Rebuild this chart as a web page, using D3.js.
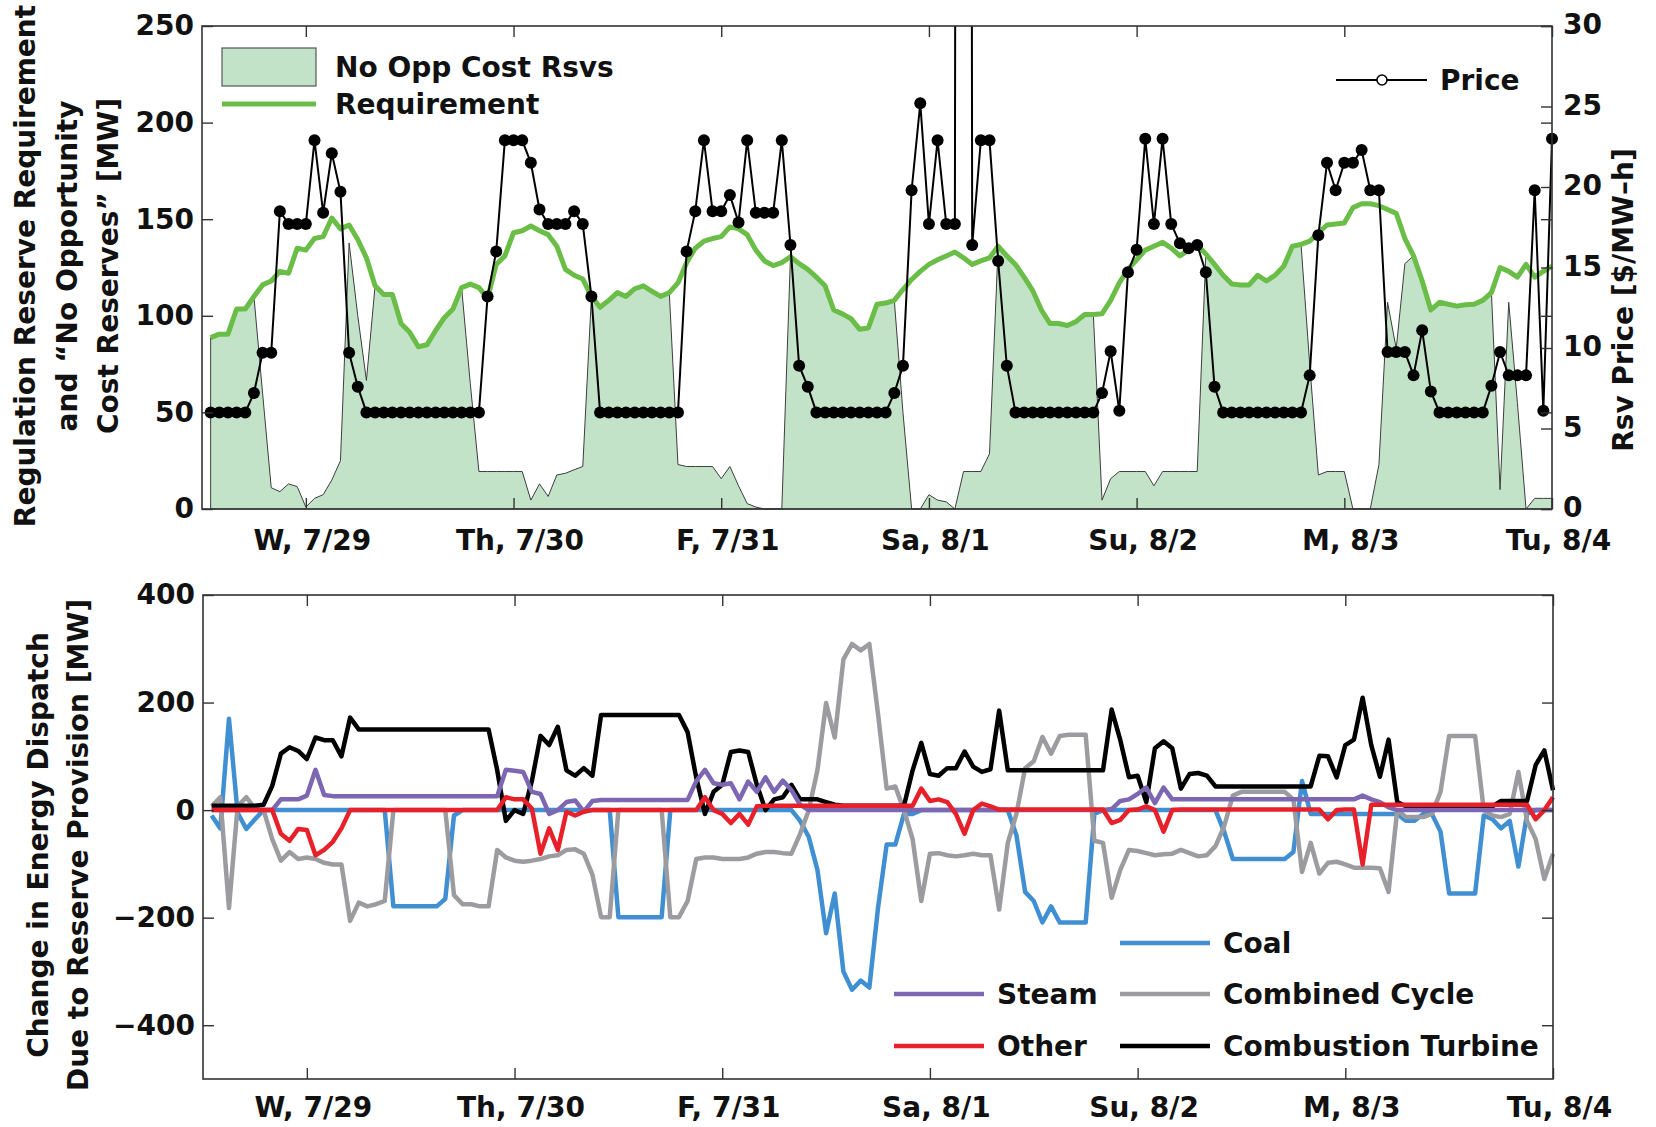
<!DOCTYPE html>
<html>
<head>
<meta charset="utf-8">
<script src="https://cdn.jsdelivr.net/npm/d3@7"></script>
<style>
  html, body { margin: 0; padding: 0; background: #fff; }
  svg { display: block; }
  text { font-family: "DejaVu Sans", sans-serif; font-weight: bold; fill: #111; }
</style>
</head>
<body>
<svg id="chart" width="1656" height="1127"></svg>
<script>
// Hourly samples, hour 0 = 00:00 Wed 7/29; first sample is 13:00 Tue 7/28
const startHour = -11;
const dayTickHours = [0, 24, 48, 72, 96, 120, 144];
const dayLabels = ["W, 7/29", "Th, 7/30", "F, 7/31", "Sa, 8/1", "Su, 8/2", "M, 8/3", "Tu, 8/4"];
const leftTicksTop = [0, 50, 100, 150, 200, 250];
const rightTicksTop = [0, 5, 10, 15, 20, 25, 30];
const leftTicksBottom = [-400, -200, 0, 200, 400];

// Regulation reserve price [$/MW-h]
const price = [
  6,6,6,6,6,7.2,9.7,9.7,18.5,17.7,
  17.7,17.7,22.9,18.4,22.1,19.7,9.7,7.6,6,6,
  6,6,6,6,6,6,6,6,6,6,
  6,6,13.2,16.0,22.9,22.9,22.9,21.5,18.6,17.7,
  17.7,17.7,18.5,17.7,13.2,6,6,6,6,6,
  6,6,6,6,6,16.0,18.5,22.9,18.5,18.5,
  19.5,17.8,22.9,18.4,18.4,18.4,22.9,16.4,8.9,7.6,
  6,6,6,6,6,6,6,6,6,7.2,
  8.9,19.8,25.2,17.7,22.9,17.7,17.7,400,16.4,22.9,
  22.9,15.4,8.9,6,6,6,6,6,6,6,
  6,6,6,7.2,9.8,6.1,14.7,16.1,23.0,17.7,
  23.0,17.7,16.5,16.2,16.4,14.7,7.6,6,6,6,
  6,6,6,6,6,6,6,8.3,17.0,21.5,
  19.8,21.5,21.5,22.3,19.8,19.8,9.75,9.75,9.75,8.3,
  11.1,7.3,6,6,6,6,6,6,7.65,9.75,
  8.3,8.3,8.3,19.8,6.1,23.0
];

// Regulation reserve requirement [MW]
const requirement = [
  88.7,90.5,90.5,103.5,103.5,110,116,118,123,122,
  135,134,140,141,150.6,145,147,139.5,130,115.5,
  111,111,96,91.5,84,85,92.4,99,103.5,114.6,
  116.4,114.6,109,126.6,131,143,144,146.5,144,142,
  136,124,121,119,110,104.4,108,112,110,114,
  115.5,112.7,110,112,117,127.5,135,138.6,140,141,
  146,145,142,134,128.4,126,127.5,130.6,127,124,
  120,115.5,103,101,98.5,93,93.7,106,106.6,108,
  113.6,118.8,123,126.6,129,131,133,130,126.6,128.4,
  130,136,131,126.6,120,113,103,96,96,95,
  97,100.7,100.7,101,108,117,124,129,134,136,
  138,135,131,134,136.7,132,126.6,121,116.4,116,
  116,121,118,121,125.7,136,137,138.6,143,147,
  147.5,148,156,158,158,157,155,153,140,131,
  118,103,107,106,105,105.7,106,108,112,125,
  123,120,126.6,120,123,125.7
];

// Reserves held without opportunity cost [MW]
const noOppCost = [
  88.7,90.5,90.5,103.5,103.5,110,60,11,9,13,
  11.6,1,5.5,7.4,15,25,137.7,100,66.5,115.5,
  111,111,96,91.5,84,85,92.4,99,103.5,114.6,
  65,19.4,19.4,19.4,19.4,19.4,19.4,4.6,13,6.5,
  17.6,18.5,20.3,22,110,104.4,108,112,110,114,
  115.5,112.7,110,112,23,22,22,22,22,15.7,
  22,12,2.8,1,0,0,0,130.6,127,124,
  120,115.5,103,101,98.5,93,93.7,106,106.6,108,
  50,0,0,7.4,4.6,3.7,0,19.4,19.4,19.4,
  28.6,136,131,126.6,120,113,103,96,96,95,
  97,100.7,100.7,4.6,15.7,19.4,19.4,19.4,19.4,12,
  19.4,19.4,19.4,19.4,19.4,132,126.6,121,116.4,116,
  116,121,118,121,125.7,136,137,75,17.6,19.4,
  19.4,19.4,0,0,0,23,107,83,127,131,
  118,103,107,106,105,105.7,106,108,112,10,
  107,55,0,5.5,5.5,5.5
];

// Change in energy dispatch by unit type [MW]
const coal = [
  -10,-34,170,-5,-35,-17,0,0,0,0,
  0,0,0,0,0,0,0,0,0,0,
  0,-179,-179,-179,-179,-179,-179,-165,-10,0,
  0,0,0,0,0,0,0,0,0,0,
  0,0,0,0,0,0,0,-199,-199,-199,
  -199,-199,-199,0,0,0,0,0,0,0,
  0,0,0,0,0,0,0,0,-20,-50,
  -111,-229,-155,-300,-334,-317,-330,-182,-64,-64,
  -7,-7,0,0,0,0,0,0,0,0,
  0,0,0,-47,-152,-169,-209,-179,-209,-209,
  -209,-209,-7,0,0,0,0,0,0,0,
  0,0,0,0,0,0,0,-40,-91,-91,
  -91,-91,-91,-91,-91,-78,54,-7,-7,-7,
  -7,-7,-7,-7,-7,-7,-7,-7,-20,-20,
  -7,-7,-40,-155,-155,-155,-155,-10,-17,-34,
  -20,-105,-7,0,0,0
];

const combinedCycle = [
  7,24,-182,7,24,3,0,-54,-94,-78,
  -91,-88,-91,-98,-101,-101,-206,-172,-179,-175,
  -169,0,0,0,0,0,0,0,-158,-175,
  -175,-179,-179,-74,-88,-94,-96,-94,-91,-86,
  -84,-74,-73,-81,-120,-199,-199,0,0,0,
  0,0,0,-199,-199,-169,-91,-88,-88,-91,
  -91,-91,-88,-81,-78,-78,-80,-81,-44,0,
  74,199,135,280,309,297,309,179,40,44,
  0,-54,-169,-81,-80,-84,-86,-84,-81,-84,
  -84,-185,-61,-7,78,91,136,105,138,140,
  140,140,-57,-61,-163,-111,-74,-76,-80,-84,
  -82,-81,-74,-80,-86,-84,-67,-30,27,34,
  34,34,34,34,34,20,-115,-61,-118,-98,
  -96,-101,-107,-107,-107,-108,-152,0,-13,-13,
  -13,-7,34,138,138,138,138,0,-10,-13,
  -7,71,-20,-54,-128,-81
];

const combustionTurbine = [
  8,8,8,8,8,8,10,45,105,117,
  110,95,135,130,130,100,172,150,150,150,
  150,150,150,150,150,150,150,150,150,150,
  150,150,150,74,-20,0,-7,54,138,121,
  155,74,64,78,64,177,177,177,177,177,
  177,177,177,177,177,145,60,-7,34,47,
  108,111,108,47,0,20,24,47,20,20,
  20,15,10,8,8,8,8,8,8,8,
  8,74,125,67,64,78,78,109,81,71,
  76,185,74,74,74,74,74,74,74,74,
  74,74,74,74,187,130,61,64,15,115,
  128,115,40,67,69,64,44,44,44,44,
  44,44,44,44,44,44,44,44,101,100,
  61,121,131,209,121,62,131,15,7,7,
  7,7,7,7,7,7,7,7,7,17,
  17,17,17,84,111,37
];

const steam = [
  0,0,0,0,0,0,0,0,20,20,
  20,27,75,28,26,26,26,26,26,26,
  26,26,26,26,26,26,26,26,26,26,
  26,26,26,26,75,73,71,34,30,-7,
  0,15,18,-3,17,19,19,19,19,19,
  19,19,19,19,19,19,54,75,50,47,
  50,20,53,34,61,34,55,37,10,0,
  0,0,0,0,0,0,0,0,0,0,
  0,0,0,0,0,0,0,0,0,0,
  0,0,0,0,0,0,0,0,0,0,
  0,0,0,0,2,17,20,30,42,13,
  42,20,20,20,20,20,20,20,20,20,
  20,20,20,20,20,20,20,20,20,20,
  20,20,20,27,20,15,5,0,0,0,
  0,0,0,0,0,0,0,0,0,0,
  0,0,0,0,0,0
];

const other = [
  0,0,0,0,0,0,0,0,-44,-57,
  -35,-37,-84,-74,-59,-34,0,0,0,0,
  0,0,0,0,0,0,0,0,0,0,
  0,0,0,0,24,20,20,3,-81,-34,
  -74,-3,-10,-3,0,0,0,0,0,0,
  0,0,0,0,0,0,0,24,0,-7,
  -24,-7,-27,7,8,8,8,8,8,8,
  8,8,8,8,8,8,8,8,8,8,
  8,8,40,17,20,15,-7,-44,0,12,
  7,1,1,1,1,1,1,1,1,1,
  1,1,1,1,-24,-18,0,1,7,0,
  -40,0,1,1,1,1,1,1,1,1,
  1,1,1,1,1,1,1,1,1,-17,
  0,1,1,-101,10,10,10,10,10,10,
  10,10,10,10,10,10,10,10,10,10,
  10,10,10,-17,0,24
];

const hours = price.map((_, i) => startHour + i);

const dispatchSeries = [
  { name: "Coal", values: coal, color: "#3f8fd2" },
  { name: "Combined Cycle", values: combinedCycle, color: "#9c9ca0" },
  { name: "Combustion Turbine", values: combustionTurbine, color: "#000000" },
  { name: "Steam", values: steam, color: "#7d67b2" },
  { name: "Other", values: other, color: "#e8202a" }
];

const svg = d3.select("#chart");
const FS = 28;
const frameColor = "#333";

// ---------- top panel: reserves and price ----------
const topBox = { l: 202, r: 1552, t: 26, b: 509 };
const xTop = d3.scaleLinear().domain([-12, 144]).range([topBox.l, topBox.r]);
const yMW = d3.scaleLinear().domain([0, 250]).range([topBox.b, topBox.t]);
const yPrice = d3.scaleLinear().domain([0, 30]).range([topBox.b, topBox.t]);

svg.append("defs").append("clipPath").attr("id", "topClip")
  .append("rect").attr("x", topBox.l - 10).attr("y", topBox.t)
  .attr("width", topBox.r - topBox.l + 20).attr("height", topBox.b - topBox.t);

const gTop = svg.append("g");

// area of reserves held at no opportunity cost
const area = d3.area()
  .x((d, i) => xTop(hours[i]))
  .y0(yMW(0))
  .y1(d => yMW(d));
gTop.append("path").datum(noOppCost)
  .attr("d", area)
  .attr("fill", "#c3e3c9")
  .attr("stroke", "#3d3d3d")
  .attr("stroke-width", 1);

// requirement
const reqLine = d3.line().x((d, i) => xTop(hours[i])).y(d => yMW(d));
gTop.append("path").datum(requirement)
  .attr("d", reqLine)
  .attr("fill", "none")
  .attr("stroke", "#6abd47")
  .attr("stroke-width", 5)
  .attr("stroke-linejoin", "round");

// price with markers
const priceG = gTop.append("g").attr("clip-path", "url(#topClip)");
const priceLine = d3.line().x((d, i) => xTop(hours[i])).y(d => yPrice(d));
priceG.append("path").datum(price)
  .attr("d", priceLine)
  .attr("fill", "none")
  .attr("stroke", "#000")
  .attr("stroke-width", 2);
priceG.selectAll("circle.p").data(price).join("circle")
  .attr("class", "p")
  .attr("cx", (d, i) => xTop(hours[i]))
  .attr("cy", d => yPrice(d))
  .attr("r", 6)
  .attr("fill", "#000");

// frame and axes
function styleAxis(g) {
  g.select(".domain").remove();
  g.selectAll(".tick line").attr("stroke", frameColor).attr("stroke-width", 1.4);
  g.selectAll(".tick text").attr("font-size", FS).attr("fill", "#111")
    .attr("font-family", "DejaVu Sans, sans-serif").attr("font-weight", "bold");
}

svg.append("g").attr("transform", `translate(${topBox.l},0)`)
  .call(d3.axisLeft(yMW).tickValues(leftTicksTop).tickSize(-11).tickPadding(8))
  .call(styleAxis);
svg.append("g").attr("transform", `translate(${topBox.r},0)`)
  .call(d3.axisRight(yMW).tickValues(leftTicksTop).tickSize(-11).tickFormat(""))
  .call(styleAxis);
svg.append("g").attr("transform", `translate(${topBox.r},0)`)
  .call(d3.axisRight(yPrice).tickValues(rightTicksTop).tickSize(-11).tickPadding(11))
  .call(styleAxis)
  .selectAll(".tick text").attr("dy", "0.27em");
svg.append("g").attr("transform", `translate(0,${topBox.b})`)
  .call(d3.axisBottom(xTop).tickValues(dayTickHours).tickSize(-11).tickPadding(21)
    .tickFormat((d, i) => dayLabels[i]))
  .call(styleAxis)
  .selectAll(".tick text").attr("dx", 6);
svg.append("g").attr("transform", `translate(0,${topBox.t})`)
  .call(d3.axisTop(xTop).tickValues(dayTickHours).tickSize(-11).tickFormat(""))
  .call(styleAxis);
svg.append("rect")
  .attr("x", topBox.l).attr("y", topBox.t)
  .attr("width", topBox.r - topBox.l).attr("height", topBox.b - topBox.t)
  .attr("fill", "none").attr("stroke", frameColor).attr("stroke-width", 1.6);

// top legends
svg.append("rect").attr("x", 222).attr("y", 48).attr("width", 94).attr("height", 38)
  .attr("fill", "#c3e3c9").attr("stroke", "#555").attr("stroke-width", 1.2);
svg.append("line").attr("x1", 222).attr("x2", 316).attr("y1", 104).attr("y2", 104)
  .attr("stroke", "#6abd47").attr("stroke-width", 5);
svg.append("text").attr("x", 335).attr("y", 77).attr("font-size", FS).text("No Opp Cost Rsvs");
svg.append("text").attr("x", 335).attr("y", 114).attr("font-size", FS).text("Requirement");

svg.append("line").attr("x1", 1336).attr("x2", 1427).attr("y1", 80).attr("y2", 80)
  .attr("stroke", "#000").attr("stroke-width", 2);
svg.append("circle").attr("cx", 1382).attr("cy", 80).attr("r", 5)
  .attr("fill", "#fff").attr("stroke", "#000").attr("stroke-width", 1.6);
svg.append("text").attr("x", 1440).attr("y", 90).attr("font-size", FS).text("Price");

// axis titles
const leftTitleTop = ["Regulation Reserve Requirement", "and \u201cNo Opportunity", "Cost Reserves\u201d [MW]"];
const leftTitleTopX = [35, 77, 118];
leftTitleTop.forEach((t, i) => {
  svg.append("text")
    .attr("transform", `translate(${leftTitleTopX[i]},266) rotate(-90)`)
    .attr("text-anchor", "middle").attr("font-size", FS).text(t);
});
svg.append("text")
  .attr("transform", "translate(1633,300) rotate(-90)")
  .attr("text-anchor", "middle").attr("font-size", FS).text("Rsv Price [$/MW\u2013h]");

// ---------- bottom panel: dispatch change ----------
const botBox = { l: 203, r: 1553, t: 595, b: 1079 };
const xBot = d3.scaleLinear().domain([-12, 144]).range([botBox.l, botBox.r]);
const yDisp = d3.scaleLinear().domain([-500, 400]).range([botBox.b, botBox.t]);

const dispLine = d3.line().x((d, i) => xBot(hours[i])).y(d => yDisp(d));
const gBot = svg.append("g");
dispatchSeries.forEach(s => {
  gBot.append("path").datum(s.values)
    .attr("d", dispLine)
    .attr("fill", "none")
    .attr("stroke", s.color)
    .attr("stroke-width", 4.5)
    .attr("stroke-linejoin", "round");
});

svg.append("g").attr("transform", `translate(${botBox.l},0)`)
  .call(d3.axisLeft(yDisp).tickValues(leftTicksBottom).tickSize(-11).tickPadding(8))
  .call(styleAxis);
svg.append("g").attr("transform", `translate(${botBox.r},0)`)
  .call(d3.axisRight(yDisp).tickValues(leftTicksBottom).tickSize(-11).tickFormat(""))
  .call(styleAxis);
svg.append("g").attr("transform", `translate(0,${botBox.b})`)
  .call(d3.axisBottom(xBot).tickValues(dayTickHours).tickSize(-11).tickPadding(18)
    .tickFormat((d, i) => dayLabels[i]))
  .call(styleAxis)
  .selectAll(".tick text").attr("dx", 6);
svg.append("g").attr("transform", `translate(0,${botBox.t})`)
  .call(d3.axisTop(xBot).tickValues(dayTickHours).tickSize(-11).tickFormat(""))
  .call(styleAxis);
svg.append("rect")
  .attr("x", botBox.l).attr("y", botBox.t)
  .attr("width", botBox.r - botBox.l).attr("height", botBox.b - botBox.t)
  .attr("fill", "none").attr("stroke", frameColor).attr("stroke-width", 1.6);

const leftTitleBot = ["Change in Energy Dispatch", "Due to Reserve Provision [MW]"];
const leftTitleBotX = [48, 88];
leftTitleBot.forEach((t, i) => {
  svg.append("text")
    .attr("transform", `translate(${leftTitleBotX[i]},845) rotate(-90)`)
    .attr("text-anchor", "middle").attr("font-size", FS).text(t);
});

// bottom legend, two columns
const legendPos = {
  "Coal": [1120, 943],
  "Combined Cycle": [1120, 994],
  "Combustion Turbine": [1120, 1046],
  "Steam": [894, 994],
  "Other": [894, 1046]
};
dispatchSeries.forEach(s => {
  const [lx, ly] = legendPos[s.name];
  svg.append("line").attr("x1", lx).attr("x2", lx + 90).attr("y1", ly).attr("y2", ly)
    .attr("stroke", s.color).attr("stroke-width", 4.5);
  svg.append("text").attr("x", lx + 103).attr("y", ly + 10).attr("font-size", FS).text(s.name);
});
</script>
</body>
</html>
